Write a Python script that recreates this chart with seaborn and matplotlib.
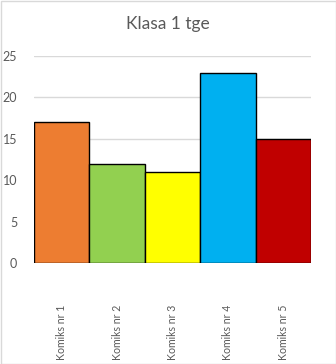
import matplotlib
matplotlib.use("Agg")
import matplotlib.pyplot as plt
import seaborn as sns
import pandas as pd
from matplotlib.patches import Rectangle

categories = ["Komiks nr 1", "Komiks nr 2", "Komiks nr 3", "Komiks nr 4", "Komiks nr 5"]
values = [17, 12, 11, 23, 15]
colors = ["#ED7D31", "#92D050", "#FFFF00", "#00B0F0", "#C00000"]
yticks = [0, 5, 10, 15, 20, 25]
title = "Klasa 1 tge"

sns.set_style("white")
plt.rcParams["font.family"] = ["Lato", "DejaVu Sans"]

df = pd.DataFrame({"komiks": categories, "liczba": values})

W, H = 336, 364
fig = plt.figure(figsize=(W / 100, H / 100), dpi=100)
ax = fig.add_axes([34 / W, (H - 263) / H, (311 - 34) / W, (263 - 56) / H])

sns.barplot(data=df, x="komiks", y="liczba", hue="komiks", palette=colors,
            legend=False, width=1.0, edgecolor="black", linewidth=1.0,
            saturation=1, ax=ax, zorder=3)

ax.set_ylim(0, 25)
ax.set_xlim(-0.5, 4.5)
ax.set_yticks(yticks)
ax.yaxis.grid(True, color="#D9D9D9", linewidth=1, zorder=0)
ax.set_axisbelow(True)
for s in ax.spines.values():
    s.set_visible(False)
ax.set_xlabel("")
ax.set_ylabel("")
ax.tick_params(axis="y", length=0, pad=12, labelsize=9, labelcolor="#595959")
ax.tick_params(axis="x", length=0, pad=30, labelsize=7.6, labelcolor="#595959")
for lbl in ax.get_xticklabels():
    lbl.set_rotation(90)
    lbl.set_va("top")

fig.text(0.5, 1 - 24 / H, title, ha="center", va="center", fontsize=12.5, color="#595959")

fig.patches.append(Rectangle((0.5 / W, 0.5 / H), 1 - 1 / W, 1 - 1 / H,
                             transform=fig.transFigure, fill=False,
                             edgecolor="#D9D9D9", linewidth=1))

fig.savefig("out.png", dpi=100)
